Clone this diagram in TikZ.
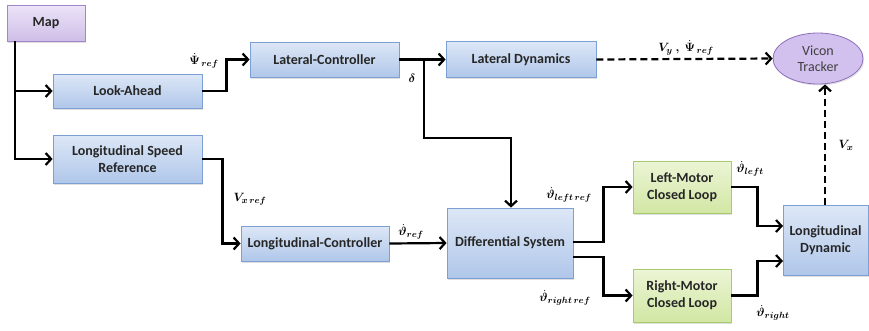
\documentclass[tikz,border=0pt]{standalone}
\usepackage{fontspec}
\usepackage{amsmath,bm}
\setmainfont{Carlito}
\usetikzlibrary{arrows.meta,shapes.geometric,shadows,calc}

\definecolor{bluetop}{RGB}{221,231,246}
\definecolor{bluebot}{RGB}{176,199,234}
\definecolor{blueedge}{RGB}{125,160,212}
\definecolor{greentop}{RGB}{236,245,214}
\definecolor{greenbot}{RGB}{210,231,164}
\definecolor{greenedge}{RGB}{168,204,108}
\definecolor{purptop}{RGB}{236,228,248}
\definecolor{purpbot}{RGB}{206,190,232}
\definecolor{purpedge}{RGB}{160,135,200}
\definecolor{viconfill}{RGB}{210,193,238}
\definecolor{viconedge}{RGB}{140,110,185}

\tikzset{
  x=1pt, y=-1pt,
  blk/.style={draw=blueedge, line width=0.8pt, top color=bluetop, bottom color=bluebot,
    font=\bfseries\fontsize{14}{17}\selectfont, text=black!85, align=center,
    inner sep=0pt, drop shadow={opacity=0.25, shadow xshift=1.2pt, shadow yshift=-1.5pt}},
  gblk/.style={blk, draw=greenedge, top color=greentop, bottom color=greenbot},
  pblk/.style={blk, draw=purpedge, top color=purptop, bottom color=purpbot},
  arr/.style={draw=black, line width=2.2pt, -{Straight Barb[length=5.5pt,width=12pt,line width=2.2pt]}},
  darr/.style={arr, dash pattern=on 7pt off 4pt},
  lbl/.style={font=\fontsize{13}{15}\selectfont, inner sep=0pt},
}

\newcommand{\bi}[1]{\boldsymbol{#1}}

\begin{document}
\begin{tikzpicture}
\useasboundingbox (0,0) rectangle (869,330);

% blocks
\node[pblk, minimum width=78pt, minimum height=36pt] (map) at (46,23) {Map};
\node[blk, minimum width=149pt, minimum height=34pt] (look) at (127.5,91) {Look-Ahead};
\node[blk, minimum width=149pt, minimum height=48pt] (lsr) at (127.5,159) {Longitudinal Speed\\Reference};
\node[blk, minimum width=149pt, minimum height=35pt] (latc) at (324.5,59.5) {Lateral-Controller};
\node[blk, minimum width=150pt, minimum height=36pt] (latd) at (521,59.5) {Lateral Dynamics};
\node[blk, minimum width=148pt, minimum height=35pt] (lonc) at (315,243.5) {Longitudinal-Controller};
\node[blk, minimum width=126pt, minimum height=70pt] (diff) at (510,243) {Differential System};
\node[gblk, minimum width=98pt, minimum height=52pt] (lm) at (682,187) {Left-Motor\\Closed Loop};
\node[gblk, minimum width=98pt, minimum height=53pt] (rm) at (682,295.5) {Right-Motor\\Closed Loop};
\node[blk, minimum width=85pt, minimum height=70pt] (lond) at (825.5,240) {Longitudinal\\Dynamic};
\node[ellipse, draw=viconedge, line width=0.8pt, fill=viconfill, minimum width=90pt, minimum height=51pt,
  inner sep=0pt, align=center, font=\fontsize{14}{16.5}\selectfont, text=black!75,
  drop shadow={opacity=0.2, shadow xshift=1.2pt, shadow yshift=-1.5pt}] (vicon) at (818,58.5) {Vicon\\Tracker};

% connectors
\coordinate (trunk) at (15,41);
\draw[arr] (trunk) |- (look.west);
\draw[arr] (trunk) |- (lsr.west);

\draw[arr] (look.east) -- ++(24,0) |- (latc.west);
\draw[arr] (latc.east) -- (latd.west);

\coordinate (split) at (424,59.5);
\coordinate (knee) at (511,138);
\draw[arr] (split) |- (knee) -- (knee |- diff.north);

\draw[darr] (latd.east) -- (vicon.west);

\draw[arr] (lsr.east) -- ++(20,0) |- (lonc.west);
\draw[arr] (lonc.east) -- (diff.west);

\draw[arr] ($(diff.east)+(0,-1)$) -- ++(30,0) |- (lm.west);
\draw[arr] ($(diff.east)+(0,14)$) -- ++(30,0) |- (rm.west);

\coordinate (ldin) at (783,226);
\coordinate (rdin) at (783,261);
\draw[arr] (lm.east) -- ++(26,0) |- (ldin);
\draw[arr] (rm.east) -- ++(26,0) |- (rdin);

\coordinate (vxup) at (825,205);
\draw[darr] (vxup) -- (vxup |- vicon.south);

% signal labels
\node[lbl] (l1) at (204,61) {$\bi{\dot\Psi}_{\,\bi{ref}}$};
\node[lbl] (l2) at (412,78) {$\bi{\delta}$};
\node[lbl] (l3) at (686,48) {$\bi{V_y}\ \bi{,}\ \bi{\dot\Psi}_{\,\bi{ref}}$};
\node[lbl] (l4) at (250,199) {$\bi{V}_{\bi{x}\,\bi{ref}}$};
\node[lbl] (l5) at (411,232) {$\bi{\dot\vartheta}_{\bi{ref}}$};
\node[lbl] (l6) at (569,195) {$\bi{\dot\vartheta}_{\bi{left}\,\bi{ref}}$};
\node[lbl] (l7) at (565,298) {$\bi{\dot\vartheta}_{\bi{right}\,\bi{ref}}$};
\node[lbl] (l8) at (750,169) {$\bi{\dot\vartheta}_{\bi{left}}$};
\node[lbl] (l9) at (773,313) {$\bi{\dot\vartheta}_{\bi{right}}$};
\node[lbl] (l10) at (846,145) {$\bi{V_x}$};
\end{tikzpicture}
\end{document}
